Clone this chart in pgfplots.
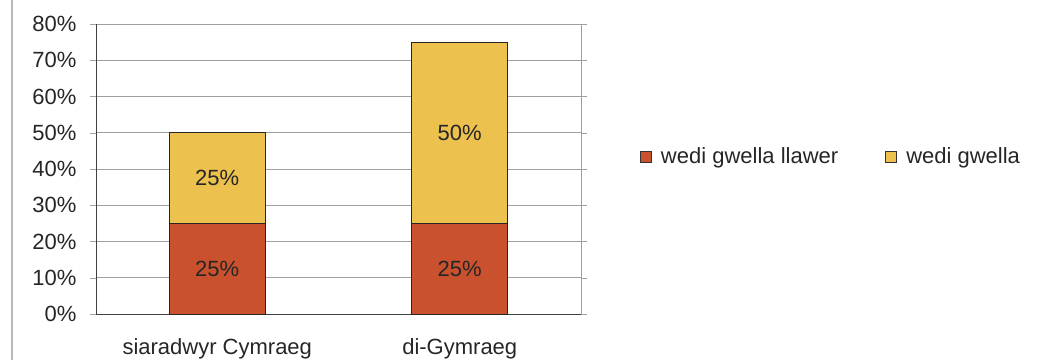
\documentclass[border=0pt]{standalone}
\usepackage{fontspec}
\setmainfont{Liberation Sans}
\usepackage{pgfplots}
\pgfplotsset{compat=1.18}
\definecolor{redbar}{RGB}{201,81,46}
\definecolor{yellowbar}{RGB}{236,193,78}
\definecolor{gridgray}{RGB}{160,160,160}
\newcommand{\chartfont}{\fontsize{22bp}{26bp}\selectfont}

\begin{document}
\chartfont
\begin{tikzpicture}[x=1bp,y=1bp]
\path[use as bounding box] (0,0) rectangle (1044,360);
% outer chart frame
\draw[gray!55, line width=1.2bp] (12,0) -- (12,360);

\begin{axis}[
  at={(96bp,46bp)}, anchor=south west,
  scale only axis, width=485bp, height=290bp,
  ybar stacked, bar width=96bp,
  xmin=-0.5, xmax=1.5, ymin=0, ymax=80,
  xtick={0,1}, xticklabels={siaradwyr Cymraeg, di-Gymraeg},
  major x tick style={draw=none},
  extra x ticks={-0.5,0.5,1.5}, extra x tick labels={},
  extra x tick style={grid=none, major tick length=5bp, tick style={draw=gridgray}},
  ytick={0,10,...,80},
  yticklabel={\pgfmathprintnumber{\tick}\%},
  /pgf/number format/assume math mode=true,
  ymajorgrids, grid style={gridgray, line width=0.8bp},
  tick align=outside, major tick length=6bp,
  ytick style={draw=gridgray},
  axis line style={gridgray, line width=0.8bp},
  tick label style={font=\chartfont, text=black!85},
  yticklabel style={xshift=-6bp},
  xticklabel style={yshift=-11bp},
  legend style={at={(1.115,0.541)}, anchor=west, draw=none, fill=none,
    font=\chartfont, text=black!85,
    /tikz/every even column/.append style={column sep=45bp}},
  legend columns=2,
  legend image code/.code={%
    \draw[#1, draw=black!80, line width=1bp] (0bp,-5.5bp) rectangle (11bp,5.5bp);
    \path (18bp,0bp);},
]
\addplot[fill=redbar, draw=black!85, line width=1bp] coordinates {(0,25) (1,25)};
\addlegendentry{wedi gwella llawer}
\addplot[fill=yellowbar, draw=black!85, line width=1bp] coordinates {(0,25) (1,50)};
\addlegendentry{wedi gwella}
% darker left and bottom axis lines
\draw[black!75, line width=1bp] (rel axis cs:0,1) -- (rel axis cs:0,0) -- (rel axis cs:1,0);
\end{axis}

% value labels at the middle of each segment
\begin{axis}[
  at={(96bp,46bp)}, anchor=south west,
  scale only axis, width=485bp, height=290bp,
  xmin=-0.5, xmax=1.5, ymin=0, ymax=80,
  hide axis,
  /pgf/number format/assume math mode=true,
  nodes near coords={\pgfmathprintnumber{\pgfplotspointmeta}\%},
  nodes near coords align={center},
  every node near coord/.append style={font=\chartfont, text=black!85, anchor=center},
]
\addplot[only marks, mark=none, point meta=explicit] table[meta=v] {
x y v
0 12.5 25
0 37.5 25
1 12.5 25
1 50 50
};
\end{axis}
\end{tikzpicture}
\end{document}
